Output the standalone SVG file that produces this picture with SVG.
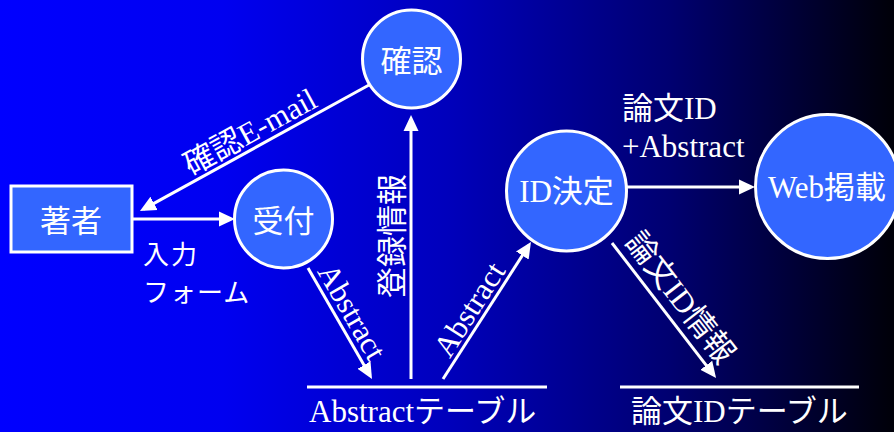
<svg xmlns="http://www.w3.org/2000/svg" width="894" height="432" viewBox="0 0 894 432">
<style>
.t{font-family:"Liberation Serif","Noto Sans CJK JP",serif;font-size:31px;fill:#fff}
.j{font-family:"Noto Sans CJK JP","Liberation Sans",sans-serif;font-size:26px;fill:#fff}
.n{fill:#3366ff;stroke:#fff;stroke-width:3}
.c{stroke:#fff;stroke-width:3;fill:none}
.a{marker-end:url(#ah)}
</style>
<defs>
<linearGradient id="bg" x1="0" y1="0" x2="1" y2="0">
<stop offset="0" stop-color="#0000ff"/>
<stop offset="0.25" stop-color="#0000f0"/>
<stop offset="0.5" stop-color="#0000bc"/>
<stop offset="0.75" stop-color="#000070"/>
<stop offset="1" stop-color="#000008"/>
</linearGradient>
<marker id="ah" markerUnits="userSpaceOnUse" markerWidth="16" markerHeight="16" refX="12" refY="8" orient="auto">
<path d="M0,0.5 L16,8 L0,15.5 z" fill="#fff"/>
</marker>
</defs>
<rect width="894" height="432" fill="url(#bg)"/>
<g id="connectors">
<line class="c a" x1="369" y1="85" x2="143.5" y2="209.1"/>
<line class="c a" x1="132" y1="219" x2="231" y2="219"/>
<line class="c a" x1="308" y1="268" x2="370" y2="375.5"/>
<line class="c a" x1="411" y1="379" x2="411" y2="119"/>
<line class="c a" x1="443" y1="379" x2="528.8" y2="245.4"/>
<line class="c a" x1="627" y1="187" x2="751" y2="187"/>
<line class="c a" x1="612" y1="243" x2="713.6" y2="374.8"/>
<text class="t" text-anchor="middle" transform="translate(255,141) rotate(-28.8)">確認E-mail</text>
<text class="t" text-anchor="middle" transform="translate(343,317) rotate(60)">Abstract</text>
<text class="t" text-anchor="middle" transform="translate(403,236) rotate(-90)">登録情報</text>
<text class="t" text-anchor="middle" transform="translate(478,315) rotate(-57.3)">Abstract</text>
<text class="t" text-anchor="middle" transform="translate(672,304) rotate(52.4)">論文ID情報</text>
<text class="j"><tspan x="143" y="264" letter-spacing="2">入力</tspan><tspan x="143" y="302" letter-spacing="1">フォーム</tspan></text>
<text class="t"><tspan x="622" y="119">論文ID</tspan><tspan x="622" y="157">+Abstract</tspan></text>
</g>
<g id="author">
<rect class="n" x="11" y="186" width="121" height="66"/>
<text class="t" x="71" y="232" text-anchor="middle">著者</text>
</g>
<g id="uketsuke">
<circle class="n" cx="283.5" cy="219" r="49"/>
<text class="t" x="283.5" y="232" text-anchor="middle">受付</text>
</g>
<g id="kakunin">
<circle class="n" cx="411.5" cy="59" r="49"/>
<text class="t" x="411.5" y="72" text-anchor="middle">確認</text>
</g>
<g id="idkettei">
<circle class="n" cx="566.5" cy="191" r="60"/>
<text class="t" x="566.5" y="202" text-anchor="middle">ID決定</text>
</g>
<g id="web">
<circle class="n" cx="827.5" cy="186.5" r="72"/>
<text class="t" x="827" y="198" text-anchor="middle">Web掲載</text>
</g>
<g id="abstract-table">
<line class="c" x1="307" y1="387" x2="547" y2="387"/>
<text class="t" x="309" y="422">Abstractテーブル</text>
</g>
<g id="paperid-table">
<line class="c" x1="620" y1="387" x2="859" y2="387"/>
<text class="t" x="631" y="422">論文IDテーブル</text>
</g>
</svg>
